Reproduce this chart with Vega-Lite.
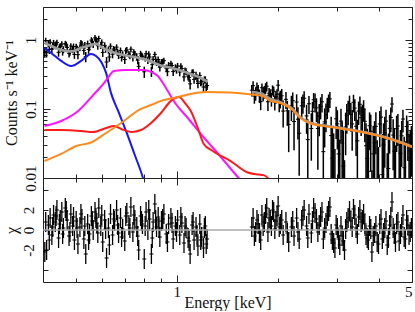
{
"$schema": "https://vega.github.io/schema/vega-lite/v6.json",
"padding": {"left": 2, "top": 6, "right": 3, "bottom": 0},
"background": "white",
"spacing": 0,
"bounds": "flush",
"config": {
  "view": {"stroke": "#222", "strokeWidth": 1},
  "font": "Liberation Serif",
  "tick": {"opacity": 1},
  "axis": {"domain": false, "grid": false, "labelFont": "Liberation Serif", "titleFont": "Liberation Serif", "labelFontSize": 15, "titleFontSize": 16, "titleFontWeight": "normal", "labelColor": "#111", "titleColor": "#111", "tickColor": "#222", "tickWidth": 1}
},
"datasets": {
"spec": [
{"e":0.405,"f":0.662,"lo":0.554,"hi":0.770,"c":-2.2},
{"e":0.4075,"f":0.970,"lo":0.864,"hi":1.076,"c":0.8},
{"e":0.41,"f":0.661,"lo":0.557,"hi":0.765,"c":-2.0},
{"e":0.415,"f":0.890,"lo":0.789,"hi":0.991,"c":0.5},
{"e":0.4175,"f":0.726,"lo":0.627,"hi":0.825,"c":-1.0},
{"e":0.42,"f":0.927,"lo":0.830,"hi":1.024,"c":1.2},
{"e":0.425,"f":0.743,"lo":0.648,"hi":0.838,"c":-0.5},
{"e":0.4275,"f":0.808,"lo":0.714,"hi":0.902,"c":0.3},
{"e":0.43,"f":0.909,"lo":0.816,"hi":1.001,"c":1.5},
{"e":0.435,"f":0.822,"lo":0.732,"hi":0.912,"c":0.8},
{"e":0.4375,"f":0.870,"lo":0.781,"hi":0.959,"c":1.4},
{"e":0.44,"f":0.918,"lo":0.829,"hi":1.006,"c":2.0},
{"e":0.445,"f":0.660,"lo":0.572,"hi":0.747,"c":-0.8},
{"e":0.4475,"f":0.777,"lo":0.690,"hi":0.864,"c":0.6},
{"e":0.45,"f":0.806,"lo":0.720,"hi":0.893,"c":1.0},
{"e":0.455,"f":0.869,"lo":0.784,"hi":0.955,"c":1.8},
{"e":0.4575,"f":0.678,"lo":0.592,"hi":0.763,"c":-0.4},
{"e":0.46,"f":0.727,"lo":0.642,"hi":0.812,"c":0.2},
{"e":0.466,"f":0.885,"lo":0.801,"hi":0.969,"c":2.2},
{"e":0.469,"f":0.856,"lo":0.772,"hi":0.940,"c":1.9},
{"e":0.472,"f":0.778,"lo":0.695,"hi":0.862,"c":1.0},
{"e":0.478,"f":0.640,"lo":0.557,"hi":0.723,"c":-0.6},
{"e":0.481,"f":0.671,"lo":0.588,"hi":0.753,"c":-0.2},
{"e":0.484,"f":0.817,"lo":0.734,"hi":0.899,"c":1.6},
{"e":0.49,"f":0.723,"lo":0.640,"hi":0.806,"c":0.4},
{"e":0.493,"f":0.803,"lo":0.720,"hi":0.887,"c":1.3},
{"e":0.496,"f":0.616,"lo":0.532,"hi":0.700,"c":-1.0},
{"e":0.502,"f":0.798,"lo":0.711,"hi":0.884,"c":0.9},
{"e":0.505,"f":0.744,"lo":0.657,"hi":0.832,"c":0.2},
{"e":0.508,"f":0.612,"lo":0.523,"hi":0.700,"c":-1.4},
{"e":0.515,"f":0.777,"lo":0.687,"hi":0.867,"c":0.3},
{"e":0.5185,"f":0.906,"lo":0.815,"hi":0.997,"c":1.6},
{"e":0.522,"f":0.872,"lo":0.779,"hi":0.964,"c":1.1},
{"e":0.529,"f":0.705,"lo":0.610,"hi":0.800,"c":-0.9},
{"e":0.5325,"f":0.835,"lo":0.740,"hi":0.931,"c":0.4},
{"e":0.536,"f":0.573,"lo":0.476,"hi":0.670,"c":-2.4},
{"e":0.543,"f":0.879,"lo":0.781,"hi":0.977,"c":0.6},
{"e":0.5465,"f":0.728,"lo":0.629,"hi":0.827,"c":-1.0},
{"e":0.55,"f":0.795,"lo":0.695,"hi":0.895,"c":-0.4},
{"e":0.557,"f":0.993,"lo":0.891,"hi":1.095,"c":1.4},
{"e":0.5605,"f":0.950,"lo":0.847,"hi":1.052,"c":0.9},
{"e":0.564,"f":0.865,"lo":0.761,"hi":0.969,"c":0.0},
{"e":0.571,"f":1.070,"lo":0.965,"hi":1.176,"c":1.8},
{"e":0.5745,"f":1.007,"lo":0.901,"hi":1.112,"c":1.2},
{"e":0.578,"f":0.954,"lo":0.848,"hi":1.060,"c":0.7},
{"e":0.582,"f":0.824,"lo":0.722,"hi":0.927,"c":-0.3},
{"e":0.586,"f":1.049,"lo":0.949,"hi":1.149,"c":2.2},
{"e":0.594,"f":0.833,"lo":0.738,"hi":0.929,"c":0.4},
{"e":0.598,"f":0.924,"lo":0.830,"hi":1.018,"c":1.5},
{"e":0.602,"f":0.659,"lo":0.567,"hi":0.751,"c":-1.2},
{"e":0.61,"f":0.834,"lo":0.745,"hi":0.924,"c":1.0},
{"e":0.614,"f":0.741,"lo":0.653,"hi":0.829,"c":0.1},
{"e":0.618,"f":0.478,"lo":0.392,"hi":0.564,"c":-2.8},
{"e":0.626,"f":0.717,"lo":0.633,"hi":0.801,"c":0.2},
{"e":0.630,"f":0.566,"lo":0.483,"hi":0.649,"c":-1.5},
{"e":0.635,"f":0.811,"lo":0.729,"hi":0.892,"c":1.6},
{"e":0.644,"f":0.620,"lo":0.541,"hi":0.700,"c":-0.5},
{"e":0.6485,"f":0.738,"lo":0.660,"hi":0.816,"c":1.1},
{"e":0.653,"f":0.715,"lo":0.637,"hi":0.792,"c":0.9},
{"e":0.662,"f":0.787,"lo":0.711,"hi":0.864,"c":2.0},
{"e":0.6665,"f":0.668,"lo":0.592,"hi":0.744,"c":0.5},
{"e":0.671,"f":0.603,"lo":0.528,"hi":0.678,"c":-0.3},
{"e":0.68,"f":0.704,"lo":0.630,"hi":0.777,"c":1.2},
{"e":0.685,"f":0.559,"lo":0.486,"hi":0.632,"c":-0.7},
{"e":0.69,"f":0.612,"lo":0.540,"hi":0.685,"c":0.1},
{"e":0.70,"f":0.521,"lo":0.449,"hi":0.593,"c":-1.1},
{"e":0.705,"f":0.697,"lo":0.626,"hi":0.769,"c":1.4},
{"e":0.71,"f":0.716,"lo":0.645,"hi":0.788,"c":1.7},
{"e":0.72,"f":0.620,"lo":0.550,"hi":0.690,"c":0.5},
{"e":0.725,"f":0.594,"lo":0.524,"hi":0.664,"c":0.2},
{"e":0.73,"f":0.734,"lo":0.665,"hi":0.803,"c":2.3},
{"e":0.74,"f":0.556,"lo":0.488,"hi":0.625,"c":-0.2},
{"e":0.745,"f":0.667,"lo":0.599,"hi":0.735,"c":1.5},
{"e":0.75,"f":0.627,"lo":0.560,"hi":0.694,"c":1.0},
{"e":0.76,"f":0.575,"lo":0.508,"hi":0.642,"c":0.3},
{"e":0.765,"f":0.510,"lo":0.444,"hi":0.576,"c":-0.6},
{"e":0.77,"f":0.414,"lo":0.349,"hi":0.480,"c":-2.0},
{"e":0.78,"f":0.631,"lo":0.566,"hi":0.696,"c":1.4},
{"e":0.785,"f":0.595,"lo":0.530,"hi":0.659,"c":0.9},
{"e":0.79,"f":0.574,"lo":0.509,"hi":0.638,"c":0.6},
{"e":0.80,"f":0.346,"lo":0.282,"hi":0.410,"c":-2.9},
{"e":0.805,"f":0.550,"lo":0.487,"hi":0.613,"c":0.4},
{"e":0.81,"f":0.632,"lo":0.570,"hi":0.695,"c":1.8},
{"e":0.82,"f":0.510,"lo":0.449,"hi":0.571,"c":0.0},
{"e":0.825,"f":0.626,"lo":0.566,"hi":0.687,"c":2.0},
{"e":0.83,"f":0.566,"lo":0.506,"hi":0.626,"c":1.1},
{"e":0.84,"f":0.349,"lo":0.290,"hi":0.408,"c":-2.4},
{"e":0.845,"f":0.438,"lo":0.380,"hi":0.496,"c":-0.8},
{"e":0.85,"f":0.526,"lo":0.468,"hi":0.584,"c":0.8},
{"e":0.86,"f":0.617,"lo":0.560,"hi":0.673,"c":2.6},
{"e":0.865,"f":0.521,"lo":0.465,"hi":0.577,"c":1.0},
{"e":0.87,"f":0.477,"lo":0.421,"hi":0.532,"c":0.3},
{"e":0.88,"f":0.520,"lo":0.466,"hi":0.574,"c":1.3},
{"e":0.885,"f":0.456,"lo":0.402,"hi":0.509,"c":0.2},
{"e":0.89,"f":0.403,"lo":0.350,"hi":0.456,"c":-0.7},
{"e":0.90,"f":0.476,"lo":0.425,"hi":0.528,"c":0.9},
{"e":0.9075,"f":0.481,"lo":0.430,"hi":0.532,"c":1.1},
{"e":0.915,"f":0.501,"lo":0.450,"hi":0.551,"c":1.6},
{"e":0.93,"f":0.390,"lo":0.341,"hi":0.440,"c":-0.4},
{"e":0.9375,"f":0.347,"lo":0.298,"hi":0.396,"c":-1.2},
{"e":0.945,"f":0.429,"lo":0.381,"hi":0.477,"c":0.6},
{"e":0.96,"f":0.452,"lo":0.405,"hi":0.499,"c":1.2},
{"e":0.9675,"f":0.425,"lo":0.378,"hi":0.472,"c":0.7},
{"e":0.975,"f":0.348,"lo":0.301,"hi":0.395,"c":-0.9},
{"e":0.99,"f":0.398,"lo":0.353,"hi":0.444,"c":0.4},
{"e":0.9975,"f":0.369,"lo":0.324,"hi":0.415,"c":-0.2},
{"e":1.005,"f":0.420,"lo":0.375,"hi":0.465,"c":1.0},
{"e":1.02,"f":0.343,"lo":0.299,"hi":0.387,"c":-0.5},
{"e":1.0275,"f":0.416,"lo":0.373,"hi":0.459,"c":1.3},
{"e":1.035,"f":0.385,"lo":0.342,"hi":0.427,"c":0.7},
{"e":1.05,"f":0.291,"lo":0.250,"hi":0.333,"c":-1.3},
{"e":1.0575,"f":0.358,"lo":0.317,"hi":0.399,"c":0.4},
{"e":1.065,"f":0.348,"lo":0.307,"hi":0.389,"c":0.2},
{"e":1.08,"f":0.298,"lo":0.259,"hi":0.338,"c":-0.8},
{"e":1.0875,"f":0.285,"lo":0.245,"hi":0.324,"c":-1.1},
{"e":1.095,"f":0.231,"lo":0.192,"hi":0.270,"c":-2.4},
{"e":1.11,"f":0.334,"lo":0.296,"hi":0.372,"c":0.5},
{"e":1.1175,"f":0.340,"lo":0.303,"hi":0.377,"c":0.8},
{"e":1.125,"f":0.268,"lo":0.232,"hi":0.305,"c":-1.0},
{"e":1.14,"f":0.311,"lo":0.275,"hi":0.347,"c":0.3},
{"e":1.1475,"f":0.277,"lo":0.242,"hi":0.313,"c":-0.5},
{"e":1.155,"f":0.234,"lo":0.199,"hi":0.269,"c":-1.6},
{"e":1.17,"f":0.306,"lo":0.271,"hi":0.340,"c":0.6},
{"e":1.1775,"f":0.246,"lo":0.213,"hi":0.280,"c":-1.0},
{"e":1.185,"f":0.252,"lo":0.219,"hi":0.285,"c":-0.7},
{"e":1.2,"f":0.208,"lo":0.176,"hi":0.240,"c":-1.8},
{"e":1.2075,"f":0.265,"lo":0.234,"hi":0.296,"c":0.2},
{"e":1.215,"f":0.267,"lo":0.236,"hi":0.297,"c":0.4},
{"e":1.2225,"f":0.208,"lo":0.178,"hi":0.238,"c":-1.4},
{"e":1.23,"f":0.219,"lo":0.189,"hi":0.248,"c":-0.9},
{"e":1.67,"f":0.187,"lo":0.151,"hi":0.222,"c":0.3},
{"e":1.685,"f":0.2176,"lo":0.1825,"hi":0.2527,"c":1.2},
{"e":1.70,"f":0.154,"lo":0.119,"hi":0.189,"c":-0.6},
{"e":1.715,"f":0.1666,"lo":0.1319,"hi":0.2013,"c":-0.2},
{"e":1.73,"f":0.206,"lo":0.172,"hi":0.241,"c":1.0},
{"e":1.745,"f":0.1882,"lo":0.1546,"hi":0.2218,"c":0.6},
{"e":1.76,"f":0.155,"lo":0.122,"hi":0.188,"c":-0.3},
{"e":1.775,"f":0.128,"lo":0.096,"hi":0.160,"c":-1.0},
{"e":1.79,"f":0.203,"lo":0.172,"hi":0.234,"c":1.5},
{"e":1.805,"f":0.1672,"lo":0.1292,"hi":0.2052,"c":0.4},
{"e":1.82,"f":0.178,"lo":0.141,"hi":0.215,"c":0.8},
{"e":1.835,"f":0.2003,"lo":0.1645,"hi":0.2361,"c":1.6},
{"e":1.85,"f":0.214,"lo":0.179,"hi":0.248,"c":2.2},
{"e":1.865,"f":0.1273,"lo":0.0938,"hi":0.1608,"c":-0.2},
{"e":1.88,"f":0.169,"lo":0.137,"hi":0.202,"c":1.2},
{"e":1.895,"f":0.160,"lo":0.128,"hi":0.192,"c":1.0},
{"e":1.91,"f":0.140,"lo":0.108,"hi":0.172,"c":0.4},
{"e":1.925,"f":0.1883,"lo":0.1569,"hi":0.2197,"c":2.0},
{"e":1.94,"f":0.180,"lo":0.149,"hi":0.211,"c":1.8},
{"e":1.955,"f":0.1261,"lo":0.0953,"hi":0.1569,"c":0.1},
{"e":1.97,"f":0.150,"lo":0.119,"hi":0.180,"c":0.9},
{"e":1.985,"f":0.1634,"lo":0.1331,"hi":0.1937,"c":1.4},
{"e":2.00,"f":0.221,"lo":0.179,"hi":0.263,"c":2.4},
{"e":2.015,"f":0.1315,"lo":0.0898,"hi":0.1732,"c":0.3},
{"e":2.03,"f":0.143,"lo":0.102,"hi":0.184,"c":0.6},
{"e":2.05,"f":0.155,"lo":0.115,"hi":0.195,"c":1.0},
{"e":2.07,"f":0.0932,"lo":0.0537,"hi":0.133,"c":-0.5},
{"e":2.11,"f":0.138,"lo":0.100,"hi":0.176,"c":0.8},
{"e":2.13,"f":0.094,"lo":0.057,"hi":0.131,"c":-0.3},
{"e":2.15,"f":0.0597,"lo":0.0237,"hi":0.0958,"c":-1.2},
{"e":2.19,"f":0.111,"lo":0.0668,"hi":0.155,"c":0.3},
{"e":2.21,"f":0.132,"lo":0.090,"hi":0.174,"c":0.9},
{"e":2.23,"f":0.0657,"lo":0.0252,"hi":0.106,"c":-0.6},
{"e":2.27,"f":0.126,"lo":0.0894,"hi":0.163,"c":1.2},
{"e":2.29,"f":0.071,"lo":0.036,"hi":0.106,"c":-0.2},
{"e":2.31,"f":0.0446,"lo":0.0108,"hi":0.0784,"c":-0.9},
{"e":2.35,"f":0.111,"lo":0.0715,"hi":0.150,"c":1.0},
{"e":2.37,"f":0.124,"lo":0.0855,"hi":0.1625,"c":1.4},
{"e":2.39,"f":0.143,"lo":0.105,"hi":0.180,"c":2.0},
{"e":2.43,"f":0.0793,"lo":0.0436,"hi":0.115,"c":0.4},
{"e":2.45,"f":0.036,"lo":0.001,"hi":0.071,"c":-0.8},
{"e":2.47,"f":0.119,"lo":0.0845,"hi":0.154,"c":1.6},
{"e":2.51,"f":0.0522,"lo":0.0178,"hi":0.0866,"c":-0.3},
{"e":2.53,"f":0.0926,"lo":0.0586,"hi":0.1266,"c":0.9},
{"e":2.55,"f":0.136,"lo":0.102,"hi":0.170,"c":2.2},
{"e":2.575,"f":0.1285,"lo":0.0888,"hi":0.168,"c":1.7},
{"e":2.60,"f":0.104,"lo":0.0644,"hi":0.143,"c":1.1},
{"e":2.625,"f":0.0522,"lo":0.0132,"hi":0.0912,"c":-0.2},
{"e":2.65,"f":0.0789,"lo":0.0402,"hi":0.118,"c":0.5},
{"e":2.675,"f":0.109,"lo":0.0706,"hi":0.1474,"c":1.3},
{"e":2.70,"f":0.127,"lo":0.0889,"hi":0.165,"c":1.8},
{"e":2.725,"f":0.0241,"lo":0.001,"hi":0.0618,"c":-0.9},
{"e":2.75,"f":0.065,"lo":0.0276,"hi":0.102,"c":0.2},
{"e":2.775,"f":0.0829,"lo":0.0459,"hi":0.1199,"c":0.7},
{"e":2.80,"f":0.108,"lo":0.0712,"hi":0.145,"c":1.4},
{"e":2.825,"f":0.1256,"lo":0.0891,"hi":0.1621,"c":1.9},
{"e":2.85,"f":0.140,"lo":0.103,"hi":0.176,"c":2.3},
{"e":2.875,"f":0.0412,"lo":0.005,"hi":0.0774,"c":-0.4},
{"e":2.90,"f":0.0193,"lo":0.001,"hi":0.0553,"c":-1.0},
{"e":2.925,"f":0.0085,"lo":0.001,"hi":0.0443,"c":-1.3},
{"e":2.95,"f":0.003,"lo":0.001,"hi":0.0262,"c":-1.8},
{"e":2.975,"f":0.072,"lo":0.0367,"hi":0.1073,"c":0.5},
{"e":3.00,"f":0.0609,"lo":0.0259,"hi":0.0959,"c":0.2},
{"e":3.025,"f":0.0223,"lo":0.001,"hi":0.0571,"c":-0.9},
{"e":3.05,"f":0.0013,"lo":0.001,"hi":0.0359,"c":-1.5},
{"e":3.075,"f":0.0667,"lo":0.0323,"hi":0.1011,"c":0.4},
{"e":3.10,"f":0.032,"lo":0.001,"hi":0.0661,"c":-0.6},
{"e":3.125,"f":0.0149,"lo":0.001,"hi":0.0488,"c":-1.1},
{"e":3.15,"f":0.003,"lo":0.001,"hi":0.0181,"c":-2.0},
{"e":3.175,"f":0.0549,"lo":0.0214,"hi":0.0884,"c":0.1},
{"e":3.20,"f":0.0807,"lo":0.0438,"hi":0.118,"c":0.8},
{"e":3.23,"f":0.0948,"lo":0.0582,"hi":0.1314,"c":1.2},
{"e":3.26,"f":0.120,"lo":0.0834,"hi":0.156,"c":1.9},
{"e":3.29,"f":0.0829,"lo":0.0467,"hi":0.1191,"c":0.9},
{"e":3.32,"f":0.0608,"lo":0.0248,"hi":0.0968,"c":0.3},
{"e":3.35,"f":0.1249,"lo":0.0891,"hi":0.1607,"c":2.1},
{"e":3.38,"f":0.103,"lo":0.0672,"hi":0.138,"c":1.5},
{"e":3.41,"f":0.0561,"lo":0.0208,"hi":0.0914,"c":0.2},
{"e":3.44,"f":0.0346,"lo":0.001,"hi":0.0696,"c":-0.4},
{"e":3.47,"f":0.0933,"lo":0.0586,"hi":0.128,"c":1.3},
{"e":3.50,"f":0.117,"lo":0.0822,"hi":0.151,"c":2.0},
{"e":3.53,"f":0.0747,"lo":0.0406,"hi":0.1088,"c":0.8},
{"e":3.56,"f":0.0808,"lo":0.047,"hi":0.115,"c":1.0},
{"e":3.59,"f":0.1004,"lo":0.0668,"hi":0.134,"c":1.6},
{"e":3.62,"f":0.0662,"lo":0.0329,"hi":0.0995,"c":0.6},
{"e":3.65,"f":0.0293,"lo":0.001,"hi":0.0622,"c":-0.5},
{"e":3.68,"f":0.0192,"lo":0.001,"hi":0.0517,"c":-0.8},
{"e":3.71,"f":0.0125,"lo":0.001,"hi":0.0448,"c":-1.0},
{"e":3.74,"f":0.0572,"lo":0.0252,"hi":0.0892,"c":0.4},
{"e":3.77,"f":0.0475,"lo":0.0123,"hi":0.0827,"c":0.1},
{"e":3.80,"f":0.003,"lo":0.001,"hi":0.013,"c":-2.2},
{"e":3.835,"f":0.0224,"lo":0.001,"hi":0.057,"c":-0.6},
{"e":3.87,"f":0.0325,"lo":0.001,"hi":0.0667,"c":-0.3},
{"e":3.905,"f":0.056,"lo":0.0221,"hi":0.0899,"c":0.4},
{"e":3.94,"f":0.0017,"lo":0.001,"hi":0.0352,"c":-1.2},
{"e":3.975,"f":0.003,"lo":0.001,"hi":0.0282,"c":-1.4},
{"e":4.01,"f":0.0607,"lo":0.0279,"hi":0.0935,"c":0.6},
{"e":4.045,"f":0.0761,"lo":0.0437,"hi":0.1085,"c":1.1},
{"e":4.08,"f":0.0112,"lo":0.001,"hi":0.0432,"c":-0.9},
{"e":4.115,"f":0.0301,"lo":0.001,"hi":0.0618,"c":-0.3},
{"e":4.15,"f":0.0455,"lo":0.0141,"hi":0.0769,"c":0.2},
{"e":4.185,"f":0.0667,"lo":0.0357,"hi":0.0977,"c":0.9},
{"e":4.22,"f":0.003,"lo":0.001,"hi":0.0229,"c":-1.5},
{"e":4.255,"f":0.0137,"lo":0.001,"hi":0.044,"c":-0.8},
{"e":4.29,"f":0.0524,"lo":0.0225,"hi":0.0823,"c":0.5},
{"e":4.325,"f":0.0755,"lo":0.0459,"hi":0.1051,"c":1.3},
{"e":4.36,"f":0.118,"lo":0.089,"hi":0.148,"c":2.8},
{"e":4.395,"f":0.0419,"lo":0.013,"hi":0.0708,"c":0.2},
{"e":4.43,"f":0.0244,"lo":0.001,"hi":0.053,"c":-0.4},
{"e":4.465,"f":0.0014,"lo":0.001,"hi":0.0297,"c":-1.2},
{"e":4.50,"f":0.0518,"lo":0.0238,"hi":0.0798,"c":0.6},
{"e":4.54,"f":0.0566,"lo":0.029,"hi":0.0842,"c":0.8},
{"e":4.58,"f":0.0041,"lo":0.001,"hi":0.0313,"c":-1.1},
{"e":4.62,"f":0.0228,"lo":0.001,"hi":0.0496,"c":-0.4},
{"e":4.66,"f":0.0409,"lo":0.0145,"hi":0.0673,"c":0.3},
{"e":4.70,"f":0.0715,"lo":0.0455,"hi":0.0975,"c":1.5},
{"e":4.74,"f":0.0141,"lo":0.001,"hi":0.0397,"c":-0.7},
{"e":4.78,"f":0.0088,"lo":0.001,"hi":0.034,"c":-0.9},
{"e":4.82,"f":0.0558,"lo":0.031,"hi":0.0806,"c":1.0},
{"e":4.86,"f":0.0427,"lo":0.0183,"hi":0.0671,"c":0.5},
{"e":4.90,"f":0.018,"lo":0.001,"hi":0.042,"c":-0.5},
{"e":4.94,"f":0.0248,"lo":0.001,"hi":0.0484,"c":-0.2},
{"e":4.98,"f":0.0335,"lo":0.0104,"hi":0.0566,"c":0.2}
],
"model": [
{"e":0.404,"v":0.905,"s":1},{"e":0.42,"v":0.83,"s":1},{"e":0.453,"v":0.716,"s":1},{"e":0.485,"v":0.681,"s":1},{"e":0.519,"v":0.765,"s":1},{"e":0.556,"v":0.846,"s":1},{"e":0.575,"v":0.88,"s":1},{"e":0.586,"v":0.84,"s":1},{"e":0.596,"v":0.79,"s":1},{"e":0.61,"v":0.745,"s":1},{"e":0.637,"v":0.68,"s":1},{"e":0.66,"v":0.64,"s":1},{"e":0.706,"v":0.595,"s":1},{"e":0.798,"v":0.53,"s":1},{"e":0.897,"v":0.427,"s":1},{"e":0.993,"v":0.38,"s":1},{"e":1.10,"v":0.322,"s":1},{"e":1.178,"v":0.281,"s":1},{"e":1.235,"v":0.246,"s":1},
{"e":1.668,"v":0.176,"s":2},{"e":1.73,"v":0.172,"s":2},{"e":1.797,"v":0.165,"s":2},{"e":1.85,"v":0.150,"s":2},{"e":1.899,"v":0.140,"s":2},{"e":2.03,"v":0.125,"s":2},{"e":2.176,"v":0.106,"s":2},{"e":2.33,"v":0.076,"s":2},{"e":2.494,"v":0.063,"s":2},{"e":2.859,"v":0.0558,"s":2},{"e":3.27,"v":0.0503,"s":2},{"e":3.76,"v":0.044,"s":2},{"e":4.39,"v":0.036,"s":2},{"e":5.0,"v":0.0285,"s":2}
],
"comp": [
{"e":0.404,"v":0.773,"k":"b"},{"e":0.423,"v":0.648,"k":"b"},{"e":0.453,"v":0.496,"k":"b"},{"e":0.485,"v":0.42,"k":"b"},{"e":0.519,"v":0.496,"k":"b"},{"e":0.556,"v":0.627,"k":"b"},{"e":0.575,"v":0.586,"k":"b"},{"e":0.596,"v":0.48,"k":"b"},{"e":0.616,"v":0.333,"k":"b"},{"e":0.637,"v":0.171,"k":"b"},{"e":0.669,"v":0.0936,"k":"b"},{"e":0.706,"v":0.048,"k":"b"},{"e":0.746,"v":0.023,"k":"b"},{"e":0.793,"v":0.01,"k":"b"},{"e":0.81,"v":0.0069,"k":"b"},
{"e":0.404,"v":0.0567,"k":"m"},{"e":0.453,"v":0.067,"k":"m"},{"e":0.509,"v":0.0935,"k":"m"},{"e":0.568,"v":0.165,"k":"m"},{"e":0.608,"v":0.238,"k":"m"},{"e":0.629,"v":0.30,"k":"m"},{"e":0.65,"v":0.355,"k":"m"},{"e":0.706,"v":0.367,"k":"m"},{"e":0.798,"v":0.367,"k":"m"},{"e":0.838,"v":0.344,"k":"m"},{"e":0.878,"v":0.30,"k":"m"},{"e":0.928,"v":0.2015,"k":"m"},{"e":0.993,"v":0.118,"k":"m"},{"e":1.078,"v":0.074,"k":"m"},{"e":1.178,"v":0.0434,"k":"m"},{"e":1.305,"v":0.0246,"k":"m"},{"e":1.526,"v":0.01,"k":"m"},{"e":1.60,"v":0.0077,"k":"m"},
{"e":0.404,"v":0.0496,"k":"r"},{"e":0.453,"v":0.0496,"k":"r"},{"e":0.519,"v":0.048,"k":"r"},{"e":0.563,"v":0.0464,"k":"r"},{"e":0.616,"v":0.053,"k":"r"},{"e":0.65,"v":0.0567,"k":"r"},{"e":0.683,"v":0.0513,"k":"r"},{"e":0.731,"v":0.0464,"k":"r"},{"e":0.782,"v":0.0496,"k":"r"},{"e":0.838,"v":0.0627,"k":"r"},{"e":0.897,"v":0.0875,"k":"r"},{"e":0.96,"v":0.131,"k":"r"},{"e":1.014,"v":0.149,"k":"r"},{"e":1.063,"v":0.118,"k":"r"},{"e":1.10,"v":0.0935,"k":"r"},{"e":1.154,"v":0.053,"k":"r"},{"e":1.202,"v":0.0311,"k":"r"},{"e":1.278,"v":0.0246,"k":"r"},{"e":1.445,"v":0.0176,"k":"r"},{"e":1.623,"v":0.012,"k":"r"},{"e":1.75,"v":0.01124,"k":"r"},{"e":1.81,"v":0.011,"k":"r"},{"e":1.873,"v":0.0097,"k":"r"},{"e":1.9,"v":0.008,"k":"r"},
{"e":0.404,"v":0.0176,"k":"o"},{"e":0.453,"v":0.0223,"k":"o"},{"e":0.502,"v":0.0291,"k":"o"},{"e":0.556,"v":0.0327,"k":"o"},{"e":0.616,"v":0.0449,"k":"o"},{"e":0.683,"v":0.0627,"k":"o"},{"e":0.782,"v":0.10,"k":"o"},{"e":0.838,"v":0.114,"k":"o"},{"e":0.897,"v":0.131,"k":"o"},{"e":1.007,"v":0.149,"k":"o"},{"e":1.219,"v":0.176,"k":"o"},{"e":1.445,"v":0.173,"k":"o"},{"e":1.657,"v":0.162,"k":"o"},{"e":1.797,"v":0.154,"k":"o"},{"e":1.899,"v":0.131,"k":"o"},{"e":2.03,"v":0.122,"k":"o"},{"e":2.176,"v":0.103,"k":"o"},{"e":2.33,"v":0.0741,"k":"o"},{"e":2.494,"v":0.0616,"k":"o"},{"e":2.859,"v":0.0549,"k":"o"},{"e":3.27,"v":0.0496,"k":"o"},{"e":3.76,"v":0.0434,"k":"o"},{"e":4.39,"v":0.0356,"k":"o"},{"e":5.0,"v":0.0281,"k":"o"}
]
},
"vconcat": [
{
  "width": 369, "height": 171,
  "layer": [
    {"data": {"name": "spec"}, "mark": {"type": "rule", "clip": true, "color": "#000", "strokeWidth": 1.5},
     "encoding": {
       "x": {"field": "e", "type": "quantitative", "scale": {"type": "log", "domain": [0.4, 5], "nice": false},
             "axis": {"orient": "bottom", "labels": false, "title": null, "values": [0.5,0.6,0.7,0.8,0.9,1,2,3,4,5], "tickSize": {"condition": {"test": "datum.value==1||datum.value==5", "value": -7}, "value": -4}}},
       "y": {"field": "lo", "type": "quantitative", "scale": {"type": "log", "domain": [0.01, 3], "nice": false},
             "axis": {"orient": "left", "values": [0.01,0.02,0.03,0.04,0.05,0.06,0.07,0.08,0.09,0.1,0.2,0.3,0.4,0.5,0.6,0.7,0.8,0.9,1,2,3],
                      "labelExpr": "datum.value==1?'1':datum.value==0.1?'0.1':datum.value==0.01?'0.01':''",
                      "labelAngle": 270, "labelAlign": "center", "labelBaseline": "alphabetic", "labelPadding": 15,
                      "tickSize": {"condition": {"test": "datum.value==1||datum.value==0.1||datum.value==0.01", "value": -7}, "value": -4},
                      "title": "Counts s⁻¹ keV⁻¹", "titleAngle": 270, "titleBaseline": "alphabetic", "titleX": -27}},
       "y2": {"field": "hi"}
     }},
    {"data": {"name": "spec"}, "mark": {"type": "tick", "orient": "horizontal", "size": 4, "thickness": 1, "color": "#000", "clip": true},
     "encoding": {
       "x": {"field": "e", "type": "quantitative", "scale": {"type": "log", "domain": [0.4, 5], "nice": false}, "axis": null},
       "y": {"field": "f", "type": "quantitative", "scale": {"type": "log", "domain": [0.01, 3], "nice": false}, "axis": null}
     }},
    {"data": {"name": "model"}, "mark": {"type": "line", "clip": true, "color": "#9c9c9c", "strokeWidth": 2.6, "interpolate": "monotone"},
     "encoding": {
       "x": {"field": "e", "type": "quantitative", "scale": {"type": "log", "domain": [0.4, 5], "nice": false}, "axis": null},
       "y": {"field": "v", "type": "quantitative", "scale": {"type": "log", "domain": [0.01, 3], "nice": false}, "axis": null},
       "detail": {"field": "s", "type": "nominal"}
     }},
    {"data": {"name": "comp"}, "mark": {"type": "line", "clip": true, "strokeWidth": 2, "interpolate": "monotone"},
     "encoding": {
       "x": {"field": "e", "type": "quantitative", "scale": {"type": "log", "domain": [0.4, 5], "nice": false}, "axis": null},
       "y": {"field": "v", "type": "quantitative", "scale": {"type": "log", "domain": [0.01, 3], "nice": false}, "axis": null},
       "color": {"field": "k", "type": "nominal", "scale": {"domain": ["b", "m", "r", "o"], "range": ["#1515ff", "#ff14ff", "#ff1a1a", "#ff8a1c"]}, "legend": null}
     }},
    {"data": {"name": "model"}, "mark": {"type": "line", "opacity": 0},
     "encoding": {
       "x": {"field": "e", "type": "quantitative", "scale": {"type": "log", "domain": [0.4, 5], "nice": false},
             "axis": {"orient": "top", "labels": false, "title": null, "values": [0.5,0.6,0.7,0.8,0.9,1,2,3,4,5], "tickSize": {"condition": {"test": "datum.value==1||datum.value==5", "value": -7}, "value": -4}}},
       "y": {"field": "v", "type": "quantitative", "scale": {"type": "log", "domain": [0.01, 3], "nice": false},
             "axis": {"orient": "right", "labels": false, "title": null, "values": [0.01,0.02,0.03,0.04,0.05,0.06,0.07,0.08,0.09,0.1,0.2,0.3,0.4,0.5,0.6,0.7,0.8,0.9,1,2,3],
                      "tickSize": {"condition": {"test": "datum.value==1||datum.value==0.1||datum.value==0.01", "value": -7}, "value": -4}}}
     }}
  ],
  "resolve": {"axis": {"x": "independent", "y": "independent"}}
},
{
  "width": 369, "height": 104,
  "layer": [
    {"data": {"name": "spec"}, "mark": {"type": "tick", "orient": "vertical", "size": 20, "thickness": 1.3, "color": "#000", "opacity": 1, "clip": true},
     "encoding": {
       "x": {"field": "e", "type": "quantitative", "scale": {"type": "log", "domain": [0.4, 5], "nice": false},
             "axis": {"orient": "bottom", "values": [0.5,0.6,0.7,0.8,0.9,1,2,3,4,5], "labelExpr": "datum.value==1?'1':datum.value==5?'5':''", "labelPadding": 9,
                      "tickSize": {"condition": {"test": "datum.value==1||datum.value==5", "value": -7}, "value": -4},
                      "title": "Energy [keV]", "titleBaseline": "alphabetic", "titleY": 25}},
       "y": {"field": "c", "type": "quantitative", "scale": {"domain": [-5.2, 5.2], "nice": false, "zero": false},
             "axis": {"orient": "left", "values": [-4,-2,0,2,4], "labelExpr": "datum.value==-2?'-2':datum.value==0?'0':datum.value==2?'2':''",
                      "labelAngle": 270, "labelAlign": "center", "labelBaseline": "alphabetic", "labelPadding": 15, "tickSize": -5,
                      "title": "χ", "titleAngle": 270, "titleBaseline": "alphabetic", "titleX": -27}}
     }},
    {"data": {"name": "spec"}, "mark": {"type": "tick", "orient": "horizontal", "size": 4, "thickness": 1, "color": "#000", "opacity": 1, "clip": true},
     "encoding": {
       "x": {"field": "e", "type": "quantitative", "scale": {"type": "log", "domain": [0.4, 5], "nice": false},
             "axis": {"orient": "top", "labels": false, "title": null, "values": [0.5,0.6,0.7,0.8,0.9,1,2,3,4,5], "tickSize": {"condition": {"test": "datum.value==1||datum.value==5", "value": -7}, "value": -4}}},
       "y": {"field": "c", "type": "quantitative", "scale": {"domain": [-5.2, 5.2], "nice": false, "zero": false},
             "axis": {"orient": "right", "labels": false, "title": null, "values": [-4,-2,0,2,4], "tickSize": -5}}
     }},
    {"data": {"values": [{}]}, "mark": {"type": "rule", "color": "#aaaaaa", "strokeWidth": 1.5},
     "encoding": {"y": {"datum": 0, "type": "quantitative", "scale": {"domain": [-5.2, 5.2], "nice": false, "zero": false}, "axis": null}}}
  ],
  "resolve": {"axis": {"x": "independent", "y": "independent"}}
}
]
}
